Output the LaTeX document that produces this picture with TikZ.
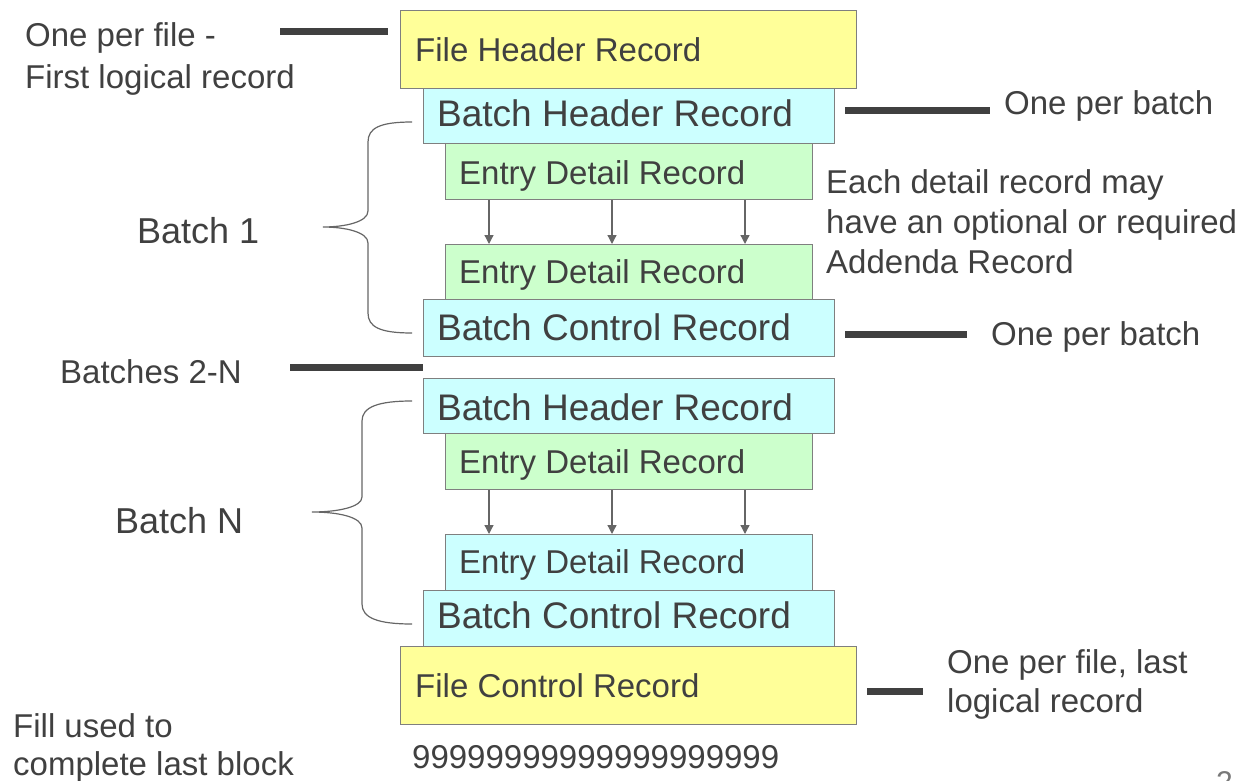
\documentclass[tikz,border=0pt]{standalone}
\usepackage{fontspec}
\setmainfont{Liberation Sans}
\usetikzlibrary{arrows.meta}
\definecolor{ink}{HTML}{404040}
\definecolor{edge}{HTML}{7F7F7F}
\definecolor{yel}{HTML}{FFFF99}
\definecolor{cya}{HTML}{CCFFFF}
\definecolor{gre}{HTML}{CCFFCC}
\tikzset{
  rec/.style={draw=edge, line width=1.3pt, anchor=north west, inner sep=0pt},
  txt/.style={text=ink, inner sep=0pt, anchor=base west},
  note/.style={txt, font=\fontsize{33}{38}\selectfont},
  bar/.style={draw=ink, line width=7pt},
  flow/.style={draw=edge, line width=1.3pt, -{Triangle[length=9pt,width=9pt]}, color=ink!80},
  brace/.style={draw=ink!80, line width=1.2pt},
}
\begin{document}
\begin{tikzpicture}[x=1pt,y=-1pt]
\useasboundingbox (0,0) rectangle (1250,781);
% boxes
\node[rec, fill=yel, minimum width=456, minimum height=78] (fh) at (400,10) {};
\node[rec, fill=cya, minimum width=411, minimum height=55] (bh1) at (423,88) {};
\node[rec, fill=gre, minimum width=367, minimum height=56] (ed1) at (445,143) {};
\node[rec, fill=gre, minimum width=367, minimum height=55] (ed2) at (445,244) {};
\node[rec, fill=cya, minimum width=411, minimum height=57] (bc1) at (423,299) {};
\node[rec, fill=cya, minimum width=411, minimum height=55] (bh2) at (423,378) {};
\node[rec, fill=gre, minimum width=367, minimum height=56] (ed3) at (445,433) {};
\node[rec, fill=cya, minimum width=367, minimum height=56] (ed4) at (445,534) {};
\node[rec, fill=cya, minimum width=411, minimum height=56] (bc2) at (423,590) {};
\node[rec, fill=yel, minimum width=456, minimum height=78] (fc) at (400,646) {};
% box texts
\node[txt, font=\fontsize{33}{38}\selectfont] (fht) at (415,62) {File Header Record};
\node[txt, font=\fontsize{37}{42}\selectfont] (bh1t) at (437,127) {Batch Header Record};
\node[txt, font=\fontsize{33}{38}\selectfont] (ed1t) at (459,184) {Entry Detail Record};
\node[txt, font=\fontsize{33}{38}\selectfont] (ed2t) at (459,283) {Entry Detail Record};
\node[txt, font=\fontsize{37}{42}\selectfont] (bc1t) at (437,340) {Batch Control Record};
\node[txt, font=\fontsize{37}{42}\selectfont] (bh2t) at (437,420) {Batch Header Record};
\node[txt, font=\fontsize{33}{38}\selectfont] (ed3t) at (459,473) {Entry Detail Record};
\node[txt, font=\fontsize{33}{38}\selectfont] (ed4t) at (459,573) {Entry Detail Record};
\node[txt, font=\fontsize{37}{42}\selectfont] (bc2t) at (437,628) {Batch Control Record};
\node[txt, font=\fontsize{33}{38}\selectfont] (fct) at (415,697) {File Control Record};
\node[txt, font=\fontsize{33}{38}\selectfont] (nines) at (412,768) {99999999999999999999};
% arrows
\foreach \dx in {44,167,300} {
  \draw[flow] ([xshift=\dx pt]ed1.south west) -- ([xshift=\dx pt]ed2.north west);
  \draw[flow] ([xshift=\dx pt]ed3.south west) -- ([xshift=\dx pt]ed4.north west);
}
% side notes
\node[note] (n1a) at (25,47) {One per file -};
\node[note] (n1b) at (25,89) {First logical record};
\node[note] (n2) at (1004,115) {One per batch};
\node[note] (n3a) at (826,193) {Each detail record may};
\node[note] (n3b) at (826,233) {have an optional or required};
\node[note] (n3c) at (826,273) {Addenda Record};
\node[note] (n4) at (991,345) {One per batch};
\node[note] (n5) at (60,383) {Batches 2-N};
\node[txt, font=\fontsize{36}{40}\selectfont] (b1) at (137,243) {Batch 1};
\node[txt, font=\fontsize{36}{40}\selectfont] (bn) at (115,533) {Batch N};
\node[note] (n6a) at (947,673) {One per file, last};
\node[note] (n6b) at (947,712) {logical record};
\node[note] (n7a) at (13,737) {Fill used to};
\node[note] (n7b) at (13,775) {complete last block};
\node[txt, text=ink!70, font=\fontsize{30}{34}\selectfont] (pg) at (1216,792) {2};
% bars
\coordinate (l1a) at (280,32);  \coordinate (l1b) at (388,32);
\coordinate (l2a) at (845,111); \coordinate (l2b) at (990,111);
\coordinate (l3a) at (845,334); \coordinate (l3b) at (967,334);
\coordinate (l4a) at (290,367); \coordinate (l4b) at (423,367);
\coordinate (l5a) at (867,691); \coordinate (l5b) at (923,691);
\draw[bar] (l1a) -- (l1b);
\draw[bar] (l2a) -- (l2b);
\draw[bar] (l3a) -- (l3b);
\draw[bar] (l4a) -- (l4b);
\draw[bar] (l5a) -- (l5b);
% braces
\draw[brace] (412,122) .. controls (380,122) and (368,128) .. (368,142) -- (368,211)
  .. controls (368,222) and (345,227) .. (323,227)
  .. controls (345,227) and (368,232) .. (368,243) -- (368,313)
  .. controls (368,327) and (380,333) .. (412,333);
\draw[brace] (412,401) .. controls (378,401) and (362,407) .. (362,421) -- (362,497)
  .. controls (362,507) and (338,512) .. (312,512)
  .. controls (338,512) and (362,517) .. (362,528) -- (362,604)
  .. controls (362,618) and (378,624) .. (412,624);
\end{tikzpicture}
\end{document}
